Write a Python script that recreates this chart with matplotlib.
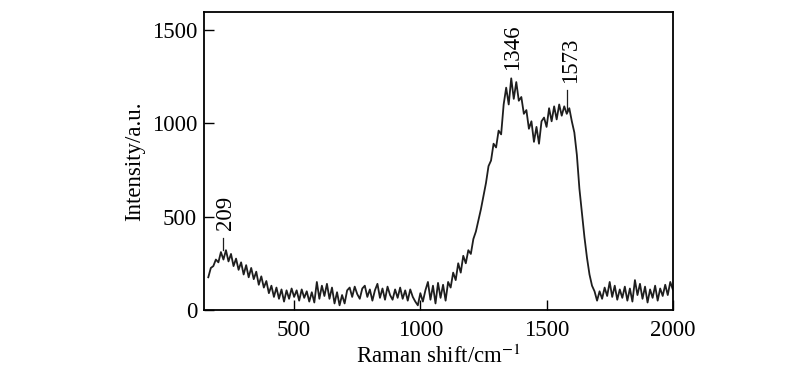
import matplotlib
matplotlib.use("Agg")
import matplotlib.pyplot as plt

plt.rcParams['font.family'] = ['Liberation Serif', 'DejaVu Serif']
plt.rcParams['mathtext.fontset'] = 'stix'

# Raman spectrum (every 10 cm-1)
shift = [160, 170, 180, 190, 200, 210, 220, 230, 240, 250,
         260, 270, 280, 290, 300, 310, 320, 330, 340, 350,
         360, 370, 380, 390, 400, 410, 420, 430, 440, 450,
         460, 470, 480, 490, 500, 510, 520, 530, 540, 550,
         560, 570, 580, 590, 600, 610, 620, 630, 640, 650,
         660, 670, 680, 690, 700, 710, 720, 730, 740, 750,
         760, 770, 780, 790, 800, 810, 820, 830, 840, 850,
         860, 870, 880, 890, 900, 910, 920, 930, 940, 950,
         960, 970, 980, 990, 1000, 1010, 1020, 1030, 1040, 1050,
         1060, 1070, 1080, 1090, 1100, 1110, 1120, 1130, 1140, 1150,
         1160, 1170, 1180, 1190, 1200, 1210, 1220, 1230, 1240, 1250,
         1260, 1270, 1280, 1290, 1300, 1310, 1320, 1330, 1340, 1350,
         1360, 1370, 1380, 1390, 1400, 1410, 1420, 1430, 1440, 1450,
         1460, 1470, 1480, 1490, 1500, 1510, 1520, 1530, 1540, 1550,
         1560, 1570, 1580, 1590, 1600, 1610, 1620, 1630, 1640, 1650,
         1660, 1670, 1680, 1690, 1700, 1710, 1720, 1730, 1740, 1750,
         1760, 1770, 1780, 1790, 1800, 1810, 1820, 1830, 1840, 1850,
         1860, 1870, 1880, 1890, 1900, 1910, 1920, 1930, 1940, 1950,
         1960, 1970, 1980, 1990, 2000]
intensity = [175, 225, 235, 270, 255, 310, 270, 320, 260, 300,
             235, 275, 215, 255, 190, 240, 175, 225, 165, 205,
             135, 180, 120, 155, 90, 130, 70, 120, 60, 110,
             45, 105, 60, 115, 70, 105, 50, 110, 65, 100,
             45, 95, 40, 150, 60, 130, 75, 140, 60, 120,
             35, 95, 25, 80, 35, 105, 120, 70, 125, 85,
             60, 115, 130, 70, 110, 50, 105, 140, 65, 115,
             55, 125, 80, 55, 110, 65, 120, 60, 105, 50,
             110, 70, 45, 25, 90, 45, 105, 150, 55, 130,
             35, 145, 65, 135, 50, 150, 120, 200, 160, 250,
             200, 290, 250, 320, 300, 380, 420, 480, 540, 610,
             680, 770, 800, 890, 870, 960, 940, 1100, 1190, 1100,
             1240, 1130, 1220, 1120, 1140, 1050, 1070, 970, 1010, 900,
             980, 890, 1010, 1030, 980, 1080, 1010, 1090, 1020, 1100,
             1040, 1090, 1050, 1080, 1010, 950, 830, 650, 520, 390,
             280, 190, 130, 100, 50, 100, 60, 120, 75, 150,
             70, 130, 55, 110, 65, 125, 50, 115, 45, 160,
             80, 140, 60, 125, 40, 110, 65, 130, 50, 115,
             75, 135, 80, 150, 110]

peak_labels = ["209", "1346", "1573"]
peak_pos = [209, 1346, 1573]
text_base = [428, 1285, 1216]
line_span = [(321, 386), None, (1071, 1178)]

fig = plt.figure(figsize=(8, 3.87), dpi=100)
ax = fig.add_axes([0.255, 0.199, 0.586, 0.770])

ax.plot(shift, intensity, color='#1e1e1e', lw=1.3)

for lab, x, yb, span in zip(peak_labels, peak_pos, text_base, line_span):
    if span is not None:
        ax.plot([x + 8, x + 8], span, color='#1e1e1e', lw=0.9)
    ax.text(x + 20, yb, lab, rotation=90, ha='center', va='bottom', fontsize=16.5)

ax.set_xlim(143, 2000)
ax.set_ylim(0, 1595)
ax.set_xticks([500, 1000, 1500, 2000])
ax.set_yticks([0, 500, 1000, 1500])
ax.tick_params(direction='in', length=7, width=1.0, labelsize=16.5)
ax.tick_params(axis='x', pad=7)
ax.tick_params(axis='y', pad=5)
for s in ax.spines.values():
    s.set_linewidth(1.3)

ax.set_xlabel("Raman shift/cm$^{-1}$", fontsize=16.5, labelpad=3)
ax.set_ylabel("Intensity/a.u.", fontsize=16.5, labelpad=5)

fig.savefig("out.png", dpi=100)
